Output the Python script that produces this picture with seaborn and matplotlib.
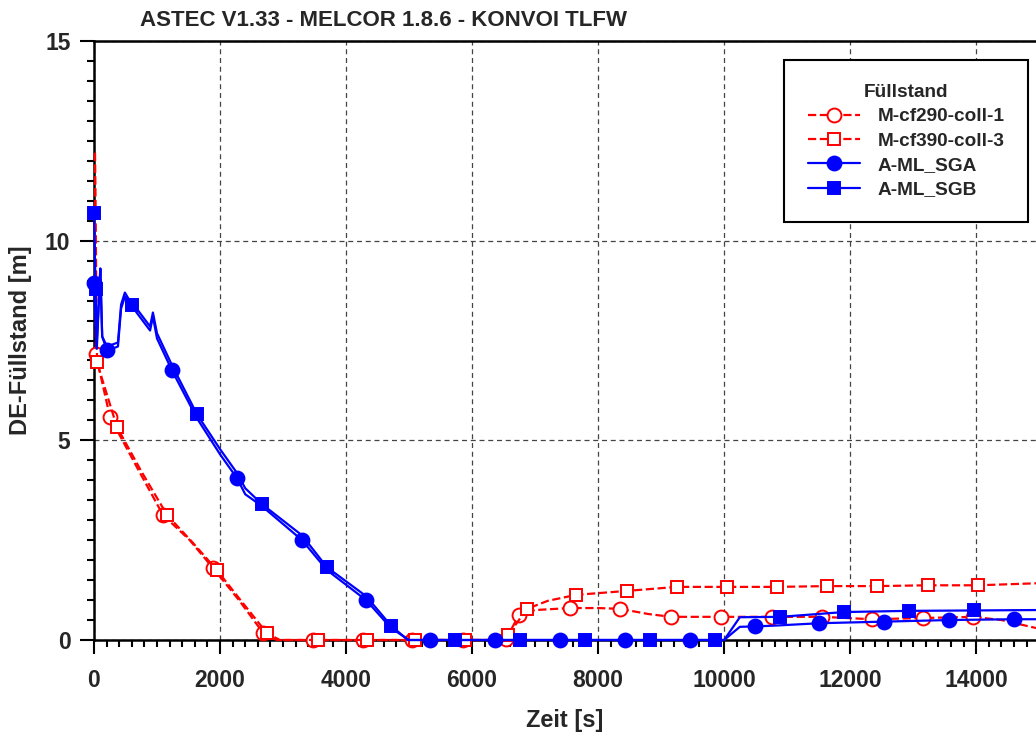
import numpy as np
import pandas as pd
import seaborn as sns
import matplotlib
matplotlib.use("Agg")
import matplotlib.pyplot as plt
from matplotlib import font_manager
from matplotlib.ticker import MultipleLocator

# ---------------- data ----------------
TITLE = "ASTEC V1.33 - MELCOR 1.8.6 - KONVOI TLFW"
XLABEL = "Zeit [s]"
YLABEL = "DE-Füllstand [m]"
LEGEND_TITLE = "Füllstand"
X_TICKS = [0, 2000, 4000, 6000, 8000, 10000, 12000, 14000]
Y_TICKS = [0, 5, 10, 15]

# M-cf290-coll-1
m1_t = [15, 30, 254, 680, 1095, 1520, 1889, 2300, 2683, 2900, 3476, 4270, 5048, 5857, 6300,
        6540, 6745, 7000, 7555, 8000, 8349, 8800, 9159, 9952, 10762, 11556, 12349, 13159,
        13952, 14400, 14950]
m1_h = [12.2, 7.15, 5.58, 4.33, 3.13, 2.5, 1.8, 1.0, 0.18, 0.0, 0.0, 0.0, 0.0, 0.0, 0.0,
        0.02, 0.63, 0.75, 0.8, 0.8, 0.78, 0.65, 0.58, 0.58, 0.58, 0.58, 0.52, 0.55,
        0.58, 0.5, 0.3]
m1_mark = [30, 254, 1095, 1889, 2683, 3476, 4270, 5048, 5857, 6540, 6745, 7555, 8349, 9159,
           9952, 10762, 11556, 12349, 13159, 13952]

# M-cf390-coll-3
m3_t = [15, 48, 365, 760, 1160, 1560, 1950, 2350, 2745, 2950, 3555, 4333, 5095, 5888, 6350,
        6570, 6872, 7200, 7650, 8460, 9254, 10044, 10840, 11635, 12429, 13238, 14032, 14950]
m3_h = [12.2, 6.95, 5.33, 4.2, 3.13, 2.45, 1.75, 0.95, 0.17, 0.0, 0.0, 0.0, 0.0, 0.0, 0.0,
        0.12, 0.78, 0.98, 1.13, 1.23, 1.33, 1.33, 1.33, 1.35, 1.35, 1.37, 1.37, 1.42]
m3_mark = [48, 365, 1160, 1950, 2745, 3555, 4333, 5095, 5888, 6570, 6872, 7650, 8460, 9254,
           10044, 10840, 11635, 12429, 13238, 14032]

# A-ML_SGA
sga_t = [0, 40, 80, 100, 130, 206, 300, 380, 430, 490, 560, 700, 890, 935, 1000, 1238, 1635,
         2000, 2270, 2400, 2667, 3302, 3698, 4317, 4714, 5000, 5333, 6365, 7397, 8428, 9460,
         10000, 10250, 10492, 10800, 11508, 12540, 13571, 14603, 14950]
sga_h = [8.95, 7.3, 8.6, 9.3, 7.6, 7.25, 7.3, 7.35, 8.3, 8.6, 8.45, 8.15, 7.75, 8.1, 7.55,
         6.75, 5.55, 4.65, 4.05, 3.65, 3.35, 2.5, 1.75, 1.0, 0.3, 0.0, 0.0, 0.0, 0.0, 0.0,
         0.0, 0.0, 0.33, 0.34, 0.36, 0.42, 0.46, 0.50, 0.52, 0.52]
sga_mark = [0, 206, 1238, 2270, 3302, 4317, 5333, 6365, 7397, 8428, 9460, 10492, 11508,
            12540, 13571, 14603]

# A-ML_SGB
sgb_t = [0, 25, 45, 80, 100, 130, 206, 380, 430, 490, 603, 700, 890, 935, 1000, 1238, 1635,
         2000, 2270, 2400, 2667, 3302, 3698, 4317, 4714, 4980, 5730, 6762, 7793, 8825, 9857,
         10000, 10250, 10890, 11905, 12937, 13968, 14950]
sgb_h = [10.7, 8.8, 7.3, 8.6, 9.3, 7.6, 7.35, 7.45, 8.4, 8.7, 8.4, 8.25, 7.85, 8.2, 7.68,
         6.88, 5.65, 4.78, 4.18, 3.8, 3.4, 2.62, 1.82, 1.1, 0.36, 0.0, 0.0, 0.0, 0.0, 0.0,
         0.0, 0.0, 0.57, 0.58, 0.70, 0.73, 0.74, 0.75]
sgb_mark = [0, 25, 603, 1635, 2667, 3698, 4714, 5730, 6762, 7793, 8825, 9857, 10890, 11905,
            12937, 13968]

# ---------------- style ----------------
sns.set_theme(style="white")
names = {f.name for f in font_manager.fontManager.ttflist}
FAM = "Liberation Sans Narrow" if "Liberation Sans Narrow" in names else "Liberation Sans"
plt.rcParams["font.family"] = [FAM, "DejaVu Sans"]
plt.rcParams["font.weight"] = "bold"

fig = plt.figure(figsize=(10.36, 7.33), dpi=100)
ax = fig.add_axes([94 / 1036, 1 - 640 / 733, 1 - 94 / 1036, (640 - 41) / 733])

series = [
    ("M-cf290-coll-1", m1_t, m1_h, m1_mark, "red", "--", "o", "white"),
    ("M-cf390-coll-3", m3_t, m3_h, m3_mark, "red", "--", "s", "white"),
    ("A-ML_SGA", sga_t, sga_h, sga_mark, "blue", "-", "o", "blue"),
    ("A-ML_SGB", sgb_t, sgb_h, sgb_mark, "blue", "-", "s", "blue"),
]
for name, t, h, mk, col, ls, marker, mfc in series:
    df = pd.DataFrame({"t": t, "h": h})
    idx = [i for i, v in enumerate(t) if v in set(mk)]
    sns.lineplot(data=df, x="t", y="h", ax=ax, estimator=None, sort=False,
                 color=col, linestyle=ls, linewidth=1.6, marker=marker,
                 markersize=10 if marker == "o" else 9, markerfacecolor=mfc,
                 markeredgecolor=col, markeredgewidth=1.4, markevery=idx,
                 dashes=(3.8, 2.6) if ls == "--" else None, label=name,
                 zorder=3, clip_on=False)

ax.set_xlim(0, 14950)
ax.set_ylim(0, 15)
ax.set_xticks(X_TICKS)
ax.set_yticks(Y_TICKS)
ax.xaxis.set_minor_locator(MultipleLocator(200))
ax.yaxis.set_minor_locator(MultipleLocator(0.5))
ax.tick_params(axis="both", which="major", direction="out", length=10, width=1.5,
               color="black", labelsize=16.5, left=True, bottom=True)
ax.tick_params(axis="both", which="minor", direction="out", length=5, width=1.5,
               color="black", left=True, bottom=True)
ax.tick_params(axis="x", which="major", pad=11)
ax.tick_params(axis="y", which="major", pad=7)
for lab in ax.get_xticklabels() + ax.get_yticklabels():
    lab.set_fontweight("bold")

ax.grid(True, which="major", linestyle=(0, (4, 3)), color="#444444", linewidth=0.9)
for s in ["left", "bottom", "top"]:
    ax.spines[s].set_visible(True)
    ax.spines[s].set_color("black")
    ax.spines[s].set_linewidth(1.8)
ax.spines["right"].set_visible(False)

ax.set_xlabel(XLABEL, fontsize=17, fontweight="bold", labelpad=12)
ax.set_ylabel(YLABEL, fontsize=17, fontweight="bold", labelpad=9)
fig.text(383 / 1036, 1 - 20 / 733, TITLE, ha="center", va="center", fontsize=16,
         fontweight="bold")

leg = ax.legend(loc="upper right", bbox_to_anchor=(0.992, 0.968), title=LEGEND_TITLE,
                frameon=True, fancybox=False, edgecolor="black", framealpha=1,
                prop={"size": 13.7, "weight": "bold"}, handlelength=2.7,
                borderpad=1.25, labelspacing=0.37, handletextpad=0.95, borderaxespad=0)
leg.get_title().set_fontweight("bold")
leg.get_title().set_fontsize(13.7)
leg.get_frame().set_linewidth(1.5)
leg.set_zorder(5)

fig.savefig("out.png", dpi=100)
